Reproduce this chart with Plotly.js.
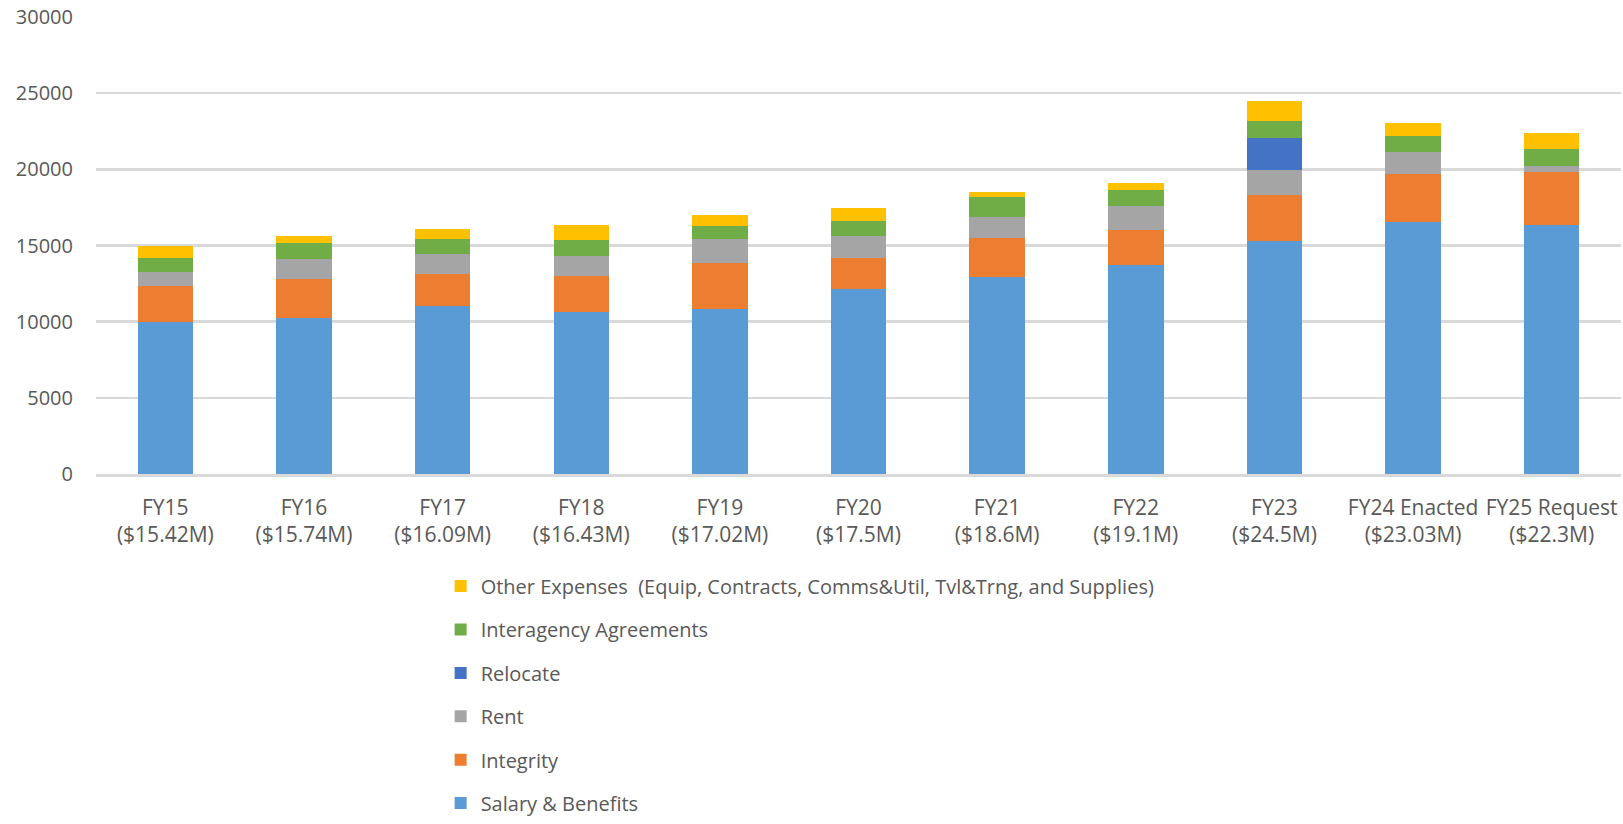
<!DOCTYPE html>
<html>
<head>
<meta charset="utf-8">
<script src="https://cdn.plot.ly/plotly-3.0.1.min.js"></script>
<style>html,body{margin:0;padding:0;background:#fff;}#chart{width:1623px;height:824px;}</style>
</head>
<body>
<div id="chart"></div>
<script>
const categories = ["FY15<br>($15.42M)", "FY16<br>($15.74M)", "FY17<br>($16.09M)", "FY18<br>($16.43M)", "FY19<br>($17.02M)", "FY20<br>($17.5M)", "FY21<br>($18.6M)", "FY22<br>($19.1M)", "FY23<br>($24.5M)", "FY24 Enacted<br>($23.03M)", "FY25 Request<br>($22.3M)"];
const salaryBenefits = [9970, 10255, 11020, 10630, 10825, 12135, 12965, 13690, 15285, 16575, 16355];
const integrity      = [2360, 2560, 2120, 2400, 2995, 2055, 2535, 2340, 3020, 3125, 3500];
const rent           = [960, 1330, 1290, 1310, 1575, 1445, 1400, 1550, 1640, 1420, 350];
const relocate       = [0, 0, 0, 0, 0, 0, 0, 0, 2120, 0, 0];
const interagency    = [900, 1010, 985, 1005, 895, 985, 1270, 1050, 1115, 1095, 1135];
const otherExpenses  = [790, 500, 655, 1030, 680, 855, 370, 500, 1310, 810, 1030];
const yTicks = [0, 5000, 10000, 15000, 20000, 25000, 30000];

const seriesNames = ["Salary & Benefits", "Integrity", "Rent", "Relocate", "Interagency Agreements", "Other Expenses  (Equip, Contracts, Comms&Util, Tvl&Trng, and Supplies)"];
const seriesValues = [salaryBenefits, integrity, rent, relocate, interagency, otherExpenses];
const seriesColors = ["#5B9BD5", "#ED7D31", "#A5A5A5", "#4472C4", "#70AD47", "#FFC000"];

const font = "Open Sans, Liberation Sans, sans-serif";
const traces = seriesNames.map((n, i) => ({
  type: "bar",
  name: n,
  x: categories,
  y: seriesValues[i],
  legendgroup: "g" + i,
  legendrank: 1000 - i,
  marker: {color: seriesColors[i], line: {width: 0}},
  hoverinfo: "x+y+name"
}));

const layout = {
  width: 1623, height: 824,
  margin: {l: 96, r: 2, t: 17, b: 350, autoexpand: false},
  paper_bgcolor: "#fff", plot_bgcolor: "#fff",
  barmode: "stack",
  bargap: 0.6,
  font: {family: font, size: 20, color: "#595959"},
  xaxis: {
    type: "category",
    showgrid: false,
    showline: true, linecolor: "#D9D9D9", linewidth: 2.5,
    ticks: "", ticklabelstandoff: 13, tickangle: 0,
    tickfont: {family: font, size: 21, color: "#595959"},
    fixedrange: true
  },
  yaxis: {
    range: [0, 30000],
    tickvals: yTicks,
    ticktext: yTicks.map(String),
    showgrid: true, gridcolor: "#D9D9D9", gridwidth: 2.5,
    zeroline: false, showline: false,
    ticks: "", ticklabelstandoff: 22,
    tickfont: {family: font, size: 20, color: "#595959"},
    fixedrange: true
  },
  showlegend: true,
  legend: {
    x: 0.226, xanchor: "left",
    y: -0.2026, yanchor: "top",
    traceorder: "grouped",
    tracegroupgap: 14.4,
    font: {family: font, size: 20, color: "#595959"},
    bgcolor: "rgba(0,0,0,0)"
  }
};

Plotly.newPlot("chart", traces, layout, {displayModeBar: false, staticPlot: true});
</script>
</body>
</html>
